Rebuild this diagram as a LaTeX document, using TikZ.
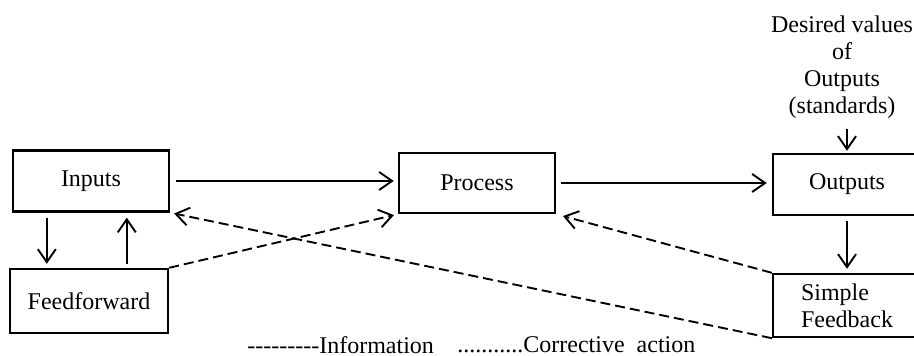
\documentclass[tikz,border=0pt]{standalone}
\usepackage{fontspec}
\setmainfont{Liberation Serif}
\usetikzlibrary{arrows.meta,calc}
\newcommand\hy{\hbox{-}}
\begin{document}
\begin{tikzpicture}[x=0.5pt,y=-0.5pt,
  box/.style={draw,line width=1.2pt,inner sep=0pt,font=\fontsize{12}{13.5}\selectfont},
  lbl/.style={inner sep=0pt,font=\fontsize{12}{13.5}\selectfont},
  arr/.style={line width=0.95pt,-{Straight Barb[length=6.5pt,width=9pt,line width=0.95pt]}},
  info/.style={arr,dash pattern=on 5pt off 2.5pt}]
\useasboundingbox (0,0) rectangle (914,356);
\clip (0,0) rectangle (914,356);
\node[box,minimum width=78pt,minimum height=30.5pt] (inputs) at (91,181) {Inputs};
\node[box,minimum width=79pt,minimum height=32pt] (ff) at (89,301) {Feedforward};
\node[box,minimum width=78pt,minimum height=30pt] (process) at (477,183) {Process};
\node[box,minimum width=74pt,minimum height=30.5pt] (outputs) at (847,184.5) {Outputs};
\node[box,minimum width=74pt,minimum height=31.5pt,align=left] (sf) at (847,305.5) {Simple\\Feedback};
\node[lbl,align=center] (desired) at (842,67) {Desired values\\of\\Outputs\\(standards)};
\node[lbl,anchor=west] (leginfo) at (247,345) {\hy\hy\hy\hy\hy\hy\hy\hy\hy Information};
\node[lbl,anchor=west] (legcorr) at (457,345) {...........Corrective\ \ action};
% solid arrows
\draw[arr,shorten <=3pt,shorten >=2pt] (inputs.east) -- (inputs.east -| process.west);
\draw[arr,shorten <=2.5pt,shorten >=2.5pt] (process.east) -- (process.east -| outputs.west);
\draw[arr,shorten <=2.5pt,shorten >=2pt] ([xshift=17.5pt]inputs.south west) -- ([xshift=17.5pt]inputs.south west |- ff.north);
\draw[arr,shorten <=2pt,shorten >=2.5pt] ([xshift=57.5pt]inputs.south west |- ff.north) -- ([xshift=57.5pt]inputs.south west);
\draw[arr,shorten <=5pt,shorten >=1pt] (desired.south -| outputs.north) -- (outputs.north);
\draw[arr,shorten <=2.5pt,shorten >=2pt] (outputs.south) -- (sf.north);
% dashed information arrows
\draw[info,shorten >=2pt] (ff.north east) -- (process.south west);
\draw[info,shorten >=2pt] (sf.south west) -- (inputs.south east);
\draw[info,shorten >=3.5pt] (sf.north west) -- (process.south east);
\end{tikzpicture}
\end{document}
